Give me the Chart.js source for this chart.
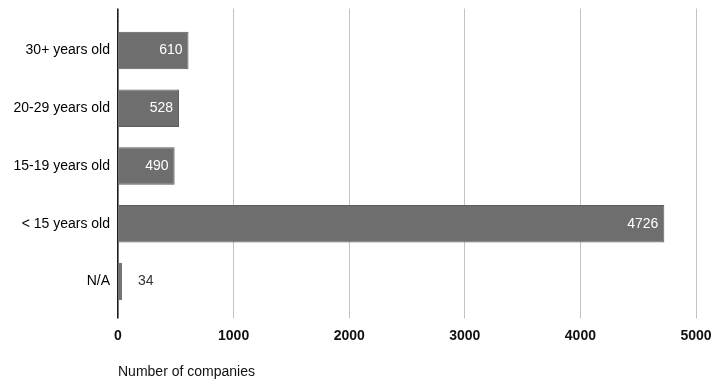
<!DOCTYPE html>
<html>
<head>
<meta charset="utf-8">
<script src="https://cdn.jsdelivr.net/npm/chart.js@4/dist/chart.umd.min.js"></script>
<style>
  html, body { margin: 0; padding: 0; background: #ffffff; }
  #wrap { position: relative; width: 723px; height: 381px; }
</style>
</head>
<body>
<div id="wrap"><canvas id="c" width="723" height="381"></canvas></div>
<script>
const categories = ['30+ years old', '20-29 years old', '15-19 years old', '< 15 years old', 'N/A'];
const companyCounts = [610, 528, 490, 4726, 34];
const axisMin = 0;
const axisMax = 5000;
const axisStep = 1000;
const axisTitle = 'Number of companies';

const FONT = "'Liberation Sans', Arial, sans-serif";
const gridColor = (ctx) => (ctx.tick && ctx.tick.value === 0) ? '#1c1c1c' : '#c2c2c2';
const gridWidth = (ctx) => (ctx.tick && ctx.tick.value === 0) ? 1.6 : 1;

const valueLabels = {
  id: 'valueLabels',
  afterDatasetsDraw(chart) {
    const meta = chart.getDatasetMeta(0);
    const ctx = chart.ctx;
    ctx.save();
    ctx.font = '14px ' + FONT;
    ctx.textBaseline = 'middle';
    meta.data.forEach((bar, i) => {
      const v = companyCounts[i];
      const txt = String(v);
      const w = ctx.measureText(txt).width;
      const barLen = bar.x - bar.base;
      if (barLen > w + 12) {
        ctx.fillStyle = '#ffffff';
        ctx.textAlign = 'right';
        ctx.fillText(txt, bar.x - 6, bar.y);
      } else {
        ctx.fillStyle = '#333333';
        ctx.textAlign = 'left';
        ctx.fillText(txt, bar.x + 16, bar.y);
      }
    });
    ctx.restore();
  }
};

new Chart(document.getElementById('c'), {
  type: 'bar',
  data: {
    labels: categories,
    datasets: [{
      data: companyCounts,
      backgroundColor: '#6e6e6e',
      borderColor: '#5c5c5c',
      borderWidth: 1,
      barPercentage: 0.65,
      categoryPercentage: 1
    }]
  },
  options: {
    indexAxis: 'y',
    responsive: false,
    animation: false,
    layout: { padding: { left: 0, right: 27, top: 9, bottom: 0 } },
    plugins: { legend: { display: false }, tooltip: { enabled: false } },
    scales: {
      x: {
        type: 'linear',
        position: 'bottom',
        min: axisMin, max: axisMax,
        ticks: { stepSize: axisStep, color: '#111', font: { family: FONT, size: 14, weight: 'bold' }, padding: 9, callback: (v) => String(v) },
        grid: { color: gridColor, lineWidth: gridWidth, drawTicks: true, tickLength: 8, tickColor: gridColor, tickWidth: gridWidth },
        border: { display: false },
        title: { display: true, text: axisTitle, align: 'start', color: '#111', font: { family: FONT, size: 14 }, padding: { top: 0, bottom: 0 } },
        afterFit: (s) => { s.height = 70.6; }
      },
      x2: {
        type: 'linear',
        position: 'top',
        min: axisMin, max: axisMax,
        ticks: { stepSize: axisStep, display: false },
        grid: { drawOnChartArea: false, drawTicks: true, tickLength: 13, color: gridColor, lineWidth: gridWidth, tickColor: gridColor, tickWidth: gridWidth },
        border: { display: false },
        afterFit: (s) => { s.height = 12.6; }
      },
      y: {
        type: 'category',
        offset: true,
        grid: { display: false, drawTicks: false },
        border: { display: false },
        ticks: { color: '#000', font: { family: FONT, size: 14 }, padding: 8 },
        afterFit: (s) => { s.width = 118; }
      }
    }
  },
  plugins: [valueLabels]
});
</script>
</body>
</html>
